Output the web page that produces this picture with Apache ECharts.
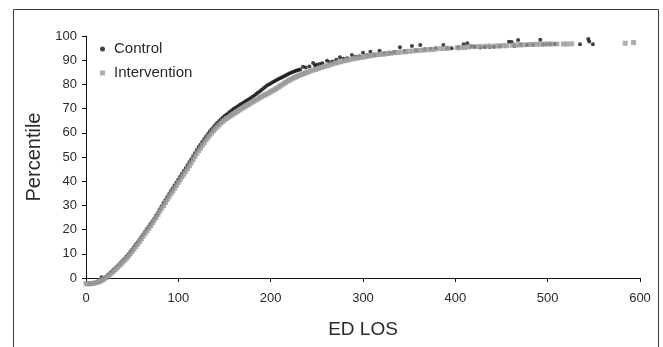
<!DOCTYPE html>
<html><head><meta charset="utf-8">
<script src="https://cdn.jsdelivr.net/npm/echarts@6/dist/echarts.min.js"></script>
<style>html,body{margin:0;padding:0;background:#fff}#c{width:663px;height:347px}</style>
</head><body><div id="c"></div>
<script>
// Axis ticks
const xTicks = [0, 100, 200, 300, 400, 500, 600];
const yTicks = [0, 10, 20, 30, 40, 50, 60, 70, 80, 90, 100];
const seriesNames = ['Control', 'Intervention'];

// Control: [ED LOS, percentile]
const controlPoints = [
[2,-2.1],[4,-2.2],[6,-2.3],[8,-2.2],[10,-2.0],[12,-1.8],[14,-1.5],[16,-1.1],[17,0.3],[18,-0.6],
[20,0.0],[22,0.6],[24,1.3],[26,2.0],[28,2.7],[30,3.4],[32,4.1],[34,4.9],[36,5.6],[38,6.4],
[40,7.2],[42,8.0],[44,8.9],[46,9.8],[48,10.8],[50,11.8],[52,12.8],[54,13.8],[56,14.8],[58,15.8],
[60,16.9],[62,18.0],[64,19.1],[66,20.2],[68,21.3],[70,22.4],[72,23.5],[74,24.6],[76,25.8],[78,27.0],
[80,28.4],[82,29.7],[84,31.0],[86,32.2],[88,33.5],[90,34.7],[92,35.9],[94,37.1],[96,38.3],[98,39.5],
[100,40.7],[102,41.9],[104,43.1],[106,44.3],[108,45.5],[110,46.7],[112,47.9],[114,49.1],[116,50.4],[118,51.7],
[120,52.9],[122,54.1],[124,55.2],[126,56.3],[128,57.4],[130,58.5],[132,59.5],[134,60.5],[136,61.4],[138,62.3],
[140,63.2],[142,64.0],[144,64.8],[146,65.5],[148,66.2],[150,66.9],[152,67.5],[154,68.1],[156,68.7],[158,69.3],
[160,69.9],[162,70.4],[164,70.9],[166,71.4],[168,71.9],[170,72.3],[172,72.8],[174,73.3],[176,73.8],[178,74.3],
[180,74.8],[182,75.3],[184,75.9],[186,76.5],[188,77.1],[190,77.7],[192,78.3],[194,78.9],[196,79.5],[198,80.0],
[200,80.4],[202,80.9],[204,81.3],[206,81.7],[208,82.1],[210,82.5],[212,82.9],[214,83.3],[216,83.7],[218,84.1],
[220,84.5],[222,84.8],[224,85.1],[226,85.4],[228,85.7],[230,86.0],[232,86.2],
[235,87.3],[238,87.0],[242,87.4],[246,88.8],[248,87.8],[250,88.1],[253,88.4],[256,88.7],[261,89.8],[264,89.2],
[267,89.5],[271,90.2],[275,91.2],[279,90.6],[283,90.8],[288,92.1],[292,91.4],[296,91.6],[300,93.1],[304,92.0],
[308,93.5],[312,92.3],[318,93.9],[323,92.9],[329,93.1],[334,93.4],[340,95.3],[345,93.8],[353,95.9],[357,94.1],
[362,96.3],[367,94.5],[373,94.7],[379,94.9],[387,96.3],[391,95.0],[396,94.9],[403,95.3],[409,96.6],[413,97.0],
[417,95.8],[421,95.6],[427,95.2],[432,95.5],[437,95.5],[442,95.6],[448,95.8],[458,97.6],[461,97.5],[464,95.9],
[468,98.3],[471,96.5],[478,96.3],[484,96.4],[492,98.5],[495,96.6],[499,96.7],[503,96.6],[508,96.7],[535,96.6],
[544,98.8],[545,97.7],[549,96.6]
];

// Intervention: [ED LOS, percentile]
const interventionPoints = [
[0,-2.3],[2,-2.4],[4,-2.4],[6,-2.3],[8,-2.2],[10,-2.0],[12,-1.8],[14,-1.5],[16,-1.2],[18,-0.8],
[20,-0.3],[22,0.2],[24,0.8],[26,1.5],[28,2.2],[30,2.9],[32,3.6],[34,4.3],[36,5.1],[38,5.8],
[40,6.6],[42,7.4],[44,8.2],[46,9.1],[48,10.0],[50,11.0],[52,12.0],[54,13.0],[56,14.0],[58,15.1],
[60,16.2],[62,17.3],[64,18.4],[66,19.4],[68,20.5],[70,21.6],[72,22.8],[74,23.9],[76,25.0],[78,26.3],
[80,27.7],[82,28.9],[84,30.0],[86,31.2],[88,32.4],[90,33.6],[92,34.8],[94,35.9],[96,37.1],[98,38.3],
[100,39.5],[102,40.6],[104,41.8],[106,42.9],[108,44.1],[110,45.2],[112,46.4],[114,47.6],[116,48.9],[118,50.2],
[120,51.5],[122,52.6],[124,53.7],[126,54.8],[128,55.9],[130,57.0],[132,58.0],[134,59.0],[136,59.9],[138,60.8],
[140,61.7],[142,62.5],[144,63.3],[146,64.0],[148,64.7],[150,65.3],[152,65.9],[154,66.4],[156,66.9],[158,67.4],
[160,67.9],[162,68.4],[164,68.9],[166,69.4],[168,69.9],[170,70.4],[172,70.8],[174,71.3],[176,71.7],[178,72.2],
[180,72.7],[182,73.1],[184,73.6],[186,74.0],[188,74.5],[190,74.9],[192,75.3],[194,75.7],[196,76.1],[198,76.5],
[200,77.0],[202,77.4],[204,77.8],[206,78.3],[208,78.8],[210,79.3],[212,79.8],[214,80.3],[216,80.8],[218,81.3],
[220,81.7],[222,82.1],[224,82.5],[226,82.9],[228,83.2],[230,83.6],[232,83.9],[234,84.2],[236,84.5],[238,84.8],
[240,85.1],[243,85.5],[246,85.9],[249,86.2],[252,86.6],[255,87.0],[258,87.4],[261,87.7],[264,88.1],[267,88.5],
[270,88.8],[273,89.1],[276,89.4],[279,89.7],[282,90.0],[285,90.2],[288,90.5],[291,90.7],[294,90.9],[297,91.1],
[300,91.3],[303,91.5],[306,91.7],[309,91.9],[312,92.1],[315,92.3],[318,92.4],[321,92.5],[324,92.6],[327,92.8],
[330,92.9],[334,93.1],[338,93.2],[342,93.4],[346,93.5],[350,93.7],[354,93.8],[358,94.0],[362,94.1],[366,94.2],
[370,94.3],[374,94.4],[378,94.5],[384,94.8],[388,94.9],[392,94.9],[402,95.1],[406,95.2],[410,95.3],[414,95.5],
[418,95.6],[424,95.6],[428,95.7],[434,95.8],[438,95.8],[444,95.9],[448,95.9],[452,96.0],[456,96.0],[462,96.2],
[466,96.3],[470,96.3],[474,96.4],[480,96.5],[484,96.5],[488,96.6],[492,96.6],[496,96.6],[500,96.7],[504,96.7],
[510,96.7],[517,96.7],[521,96.7],[526,96.8],[584,97.0],[593,97.3]
];

const chart = echarts.init(document.getElementById('c'), null, {renderer: 'canvas'});
const font = '"Liberation Sans", Arial, sans-serif';
const textColor = '#2a2a2a';

chart.setOption({
  animation: false,
  backgroundColor: '#ffffff',
  textStyle: {fontFamily: font},
  grid: {left: 86, right: 23, top: 36, bottom: 69, containLabel: false},
  graphic: [{
    type: 'polyline',
    shape: {points: [[13.5, 347], [13.5, 9.5], [658.5, 9.5], [658.5, 347]]},
    style: {stroke: '#3a3a3a', lineWidth: 1, fill: null},
    silent: true
  }],
  legend: {
    orient: 'vertical',
    left: 95,
    top: 36,
    itemWidth: 5,
    itemHeight: 5,
    itemGap: 8,
    textStyle: {fontSize: 15, color: textColor, fontFamily: font, lineHeight: 16, padding: [0, 0, 0, 4]},
    data: [{name: seriesNames[0], icon: 'circle'}, {name: seriesNames[1], icon: 'rect'}]
  },
  xAxis: {
    type: 'value',
    min: xTicks[0],
    max: xTicks[xTicks.length - 1],
    interval: 100,
    name: 'ED LOS',
    nameLocation: 'middle',
    nameGap: 42,
    nameTextStyle: {fontSize: 19, color: textColor, fontFamily: font},
    axisLine: {show: true, onZero: false, lineStyle: {color: '#111', width: 1}},
    axisTick: {show: true, inside: false, length: 4, lineStyle: {color: '#111'}},
    axisLabel: {fontSize: 13, color: textColor, margin: 14, fontFamily: font},
    splitLine: {show: false}
  },
  yAxis: {
    type: 'value',
    min: yTicks[0],
    max: yTicks[yTicks.length - 1],
    interval: 10,
    name: 'Percentile',
    nameLocation: 'middle',
    nameGap: 36,
    nameTextStyle: {fontSize: 20, color: textColor, fontFamily: font},
    axisLine: {show: true, onZero: false, lineStyle: {color: '#111', width: 1}},
    axisTick: {show: true, inside: false, length: 4, lineStyle: {color: '#111'}},
    axisLabel: {fontSize: 13, color: textColor, margin: 9, fontFamily: font},
    splitLine: {show: false}
  },
  series: [{
    name: seriesNames[0],
    type: 'scatter',
    clip: false,
    symbol: 'circle',
    symbolSize: 4,
    itemStyle: {color: '#111111'},
    data: controlPoints,
    z: 2
  }, {
    name: seriesNames[1],
    type: 'scatter',
    clip: false,
    symbol: 'rect',
    symbolSize: 5,
    itemStyle: {color: '#9a9a9a'},
    data: interventionPoints,
    z: 3
  }]
});
</script>
</body></html>
